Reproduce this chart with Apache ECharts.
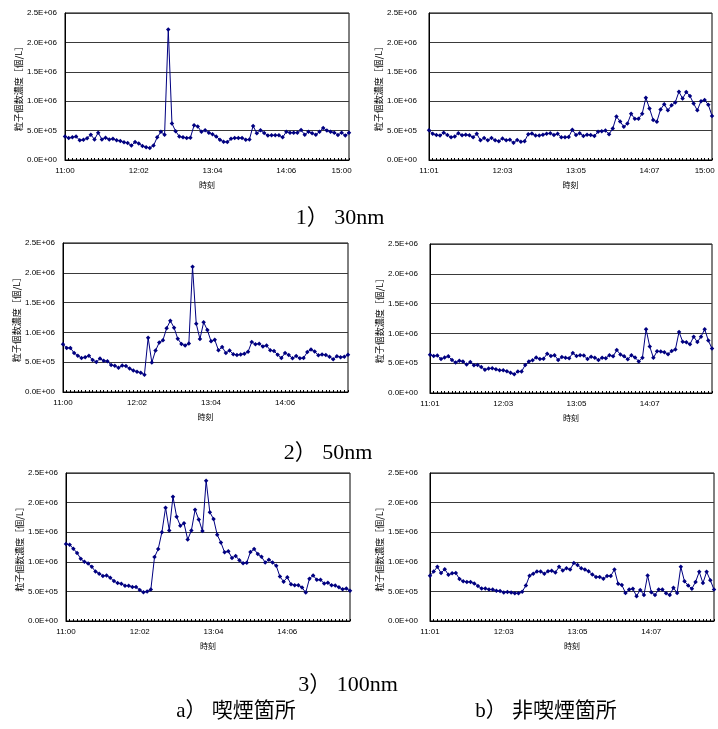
<!DOCTYPE html>
<html>
<head>
<meta charset="utf-8">
<script src="https://cdn.jsdelivr.net/npm/echarts@6/dist/echarts.min.js"></script>
<style>
html,body{margin:0;padding:0;background:#fff;}
#chart{width:718px;height:729px;}
</style>
</head>
<body>
<div id="chart"></div>
<script>
// ---- data (values in units of 1E+06 particles per litre) ----
const smoke30 = [0.40,0.375,0.385,0.40,0.335,0.345,0.37,0.43,0.35,0.465,0.35,0.38,0.35,0.36,0.335,0.325,0.30,0.29,0.245,0.305,0.28,0.24,0.215,0.205,0.245,0.385,0.48,0.43,2.22,0.62,0.49,0.40,0.385,0.375,0.38,0.59,0.57,0.48,0.505,0.465,0.44,0.40,0.345,0.31,0.305,0.36,0.375,0.375,0.375,0.345,0.35,0.58,0.455,0.505,0.46,0.415,0.42,0.42,0.42,0.385,0.48,0.465,0.465,0.465,0.51,0.43,0.48,0.455,0.43,0.48,0.545,0.50,0.48,0.465,0.425,0.465,0.415,0.465];
const nonSmoke30 = [0.505,0.445,0.425,0.415,0.465,0.425,0.385,0.40,0.455,0.42,0.43,0.42,0.385,0.445,0.335,0.375,0.335,0.375,0.335,0.32,0.365,0.335,0.345,0.295,0.34,0.31,0.32,0.44,0.45,0.415,0.415,0.43,0.445,0.455,0.425,0.445,0.385,0.385,0.39,0.515,0.425,0.455,0.41,0.43,0.425,0.41,0.48,0.49,0.50,0.44,0.535,0.74,0.655,0.565,0.62,0.785,0.70,0.70,0.785,1.06,0.875,0.68,0.65,0.86,0.95,0.845,0.93,0.98,1.16,1.045,1.155,1.09,0.96,0.845,1.00,1.02,0.94,0.75];
const smoke50 = [0.80,0.74,0.74,0.655,0.61,0.57,0.585,0.61,0.535,0.505,0.56,0.525,0.515,0.455,0.44,0.405,0.445,0.435,0.395,0.36,0.34,0.325,0.29,0.91,0.495,0.695,0.83,0.87,1.07,1.195,1.08,0.895,0.805,0.78,0.815,2.10,1.145,0.89,1.17,1.04,0.85,0.875,0.70,0.755,0.655,0.695,0.635,0.62,0.63,0.64,0.675,0.84,0.80,0.81,0.765,0.78,0.70,0.69,0.625,0.57,0.655,0.62,0.565,0.605,0.565,0.57,0.67,0.715,0.68,0.615,0.63,0.62,0.59,0.55,0.60,0.585,0.59,0.625];
const nonSmoke50 = [0.64,0.62,0.63,0.57,0.595,0.615,0.555,0.51,0.54,0.53,0.48,0.52,0.465,0.47,0.435,0.39,0.41,0.415,0.40,0.38,0.38,0.365,0.34,0.315,0.36,0.36,0.47,0.53,0.55,0.595,0.57,0.575,0.66,0.62,0.635,0.555,0.605,0.59,0.585,0.67,0.62,0.635,0.63,0.57,0.61,0.59,0.555,0.59,0.585,0.635,0.615,0.72,0.645,0.615,0.565,0.635,0.595,0.53,0.59,1.07,0.78,0.59,0.70,0.695,0.685,0.65,0.705,0.73,1.025,0.86,0.85,0.82,0.945,0.855,0.945,1.07,0.88,0.745];
const smoke100 = [1.30,1.29,1.22,1.15,1.05,1.00,0.97,0.915,0.835,0.80,0.76,0.77,0.73,0.675,0.64,0.63,0.595,0.595,0.575,0.575,0.525,0.485,0.50,0.53,1.08,1.215,1.50,1.915,1.53,2.10,1.76,1.61,1.65,1.375,1.53,1.88,1.715,1.52,2.37,1.835,1.725,1.455,1.325,1.16,1.18,1.065,1.10,1.025,0.975,0.985,1.165,1.215,1.13,1.085,0.99,1.035,0.99,0.935,0.75,0.665,0.74,0.62,0.605,0.605,0.565,0.48,0.715,0.77,0.695,0.695,0.635,0.645,0.605,0.60,0.57,0.535,0.55,0.51];
const nonSmoke100 = [0.765,0.835,0.915,0.81,0.875,0.78,0.805,0.81,0.71,0.67,0.66,0.66,0.635,0.59,0.55,0.55,0.53,0.53,0.51,0.505,0.48,0.49,0.48,0.47,0.47,0.495,0.60,0.765,0.80,0.835,0.835,0.80,0.84,0.85,0.82,0.915,0.855,0.89,0.87,0.98,0.945,0.89,0.87,0.84,0.785,0.745,0.745,0.715,0.76,0.76,0.87,0.63,0.61,0.475,0.53,0.545,0.42,0.525,0.44,0.77,0.485,0.44,0.53,0.53,0.47,0.44,0.56,0.475,0.915,0.67,0.60,0.545,0.66,0.83,0.64,0.83,0.69,0.53];

// tick labels (shown every 20 samples) and the extra end label on the top row
const smokeTickLabels = ['11:00','12:02','13:04','14:06'];
const nonSmokeTickLabels = ['11:01','12:03','13:05','14:07'];
const endLabel = '15:00';
const TICK_STEP = 20;
const END_INDEX = 75;

const sizeTitles = ['1）\u00a030nm','2）\u00a050nm','3）\u00a0100nm'];
const placeTitles = ['a）\u00a0喫煙箇所','b）\u00a0非喫煙箇所'];
const yName = '粒子個数濃度［個/L］';
const xName = '時刻';

// ---- layout ----
const panels = [
  {data: smoke30,     ticks: smokeTickLabels,    end: true,  grid:{left:65,top:13,width:284,height:147}, ygap:42, lmargin:8},
  {data: nonSmoke30,  ticks: nonSmokeTickLabels, end: true,  grid:{left:429,top:13,width:283,height:147}, ygap:46, lmargin:12},
  {data: smoke50,     ticks: smokeTickLabels,    end: false, grid:{left:63,top:243,width:285,height:149}, ygap:40, lmargin:8},
  {data: nonSmoke50,  ticks: nonSmokeTickLabels, end: false, grid:{left:430,top:244,width:282,height:149}, ygap:44, lmargin:12},
  {data: smoke100,    ticks: smokeTickLabels,    end: false, grid:{left:66,top:473,width:284,height:148}, ygap:42, lmargin:8},
  {data: nonSmoke100, ticks: nonSmokeTickLabels, end: false, grid:{left:430,top:473,width:284,height:148}, ygap:43, lmargin:12}
];

function sci(v){
  if (v === 0) return '0.0E+00';
  const e = Math.floor(Math.log10(v) + 1e-9);
  const m = v / Math.pow(10, e);
  return m.toFixed(1) + 'E+' + String(e).padStart(2,'0');
}

const labelFont = {fontFamily:'Liberation Sans, Arial, sans-serif', fontSize:8, color:'#000'};
const cjkFont = {fontFamily:'Noto Sans CJK JP, sans-serif', fontSize:8, color:'#000'};
const yNameFont = {fontFamily:'Noto Sans CJK JP, sans-serif', fontSize:9, color:'#000'};

const grids = [], xAxes = [], yAxes = [], series = [];
panels.forEach((p, k) => {
  grids.push(Object.assign({show:true, borderColor:'#000', borderWidth:1, backgroundColor:'#fff'}, p.grid));
  const cats = p.data.map((_, i) => {
    if (i % TICK_STEP === 0 && i / TICK_STEP < p.ticks.length) return p.ticks[i / TICK_STEP];
    if (p.end && i === END_INDEX) return endLabel;
    return '';
  });
  xAxes.push({
    type:'category', gridIndex:k, data:cats, boundaryGap:false,
    axisLine:{show:true, lineStyle:{color:'#000', width:1}},
    axisTick:{show:true, inside:true, interval:0, length:2, lineStyle:{color:'#000'}},
    axisLabel:Object.assign({interval:(i, v) => v !== '', margin:7}, labelFont),
    splitLine:{show:false},
    name:xName, nameLocation:'middle', nameGap:21, nameTextStyle:cjkFont
  });
  yAxes.push({
    type:'value', gridIndex:k, min:0, max:2500000, interval:500000,
    axisLine:{show:true, lineStyle:{color:'#000', width:1}},
    axisTick:{show:false},
    axisLabel:Object.assign({formatter:sci, margin:p.lmargin}, labelFont),
    splitLine:{show:true, lineStyle:{color:'#3a3a3a', width:1}},
    name:yName, nameLocation:'middle', nameRotate:90, nameGap:p.ygap, nameTextStyle:yNameFont
  });
  series.push({
    type:'line', xAxisIndex:k, yAxisIndex:k,
    data:p.data.map(v => v * 1e6),
    symbol:'diamond', symbolSize:4.5, showSymbol:true, showAllSymbol:true,
    lineStyle:{color:'#000080', width:1},
    itemStyle:{color:'#000080'},
    animation:false, silent:true
  });
});

const serifFont = '22px "Liberation Serif", "Noto Sans CJK JP", serif';
const placeFont = '21px "Liberation Serif", "Noto Sans CJK JP", serif';
const graphics = [
  {type:'text', x:340, y:218, style:{text:sizeTitles[0], align:'center', verticalAlign:'middle', font:serifFont, fill:'#000'}},
  {type:'text', x:328, y:453, style:{text:sizeTitles[1], align:'center', verticalAlign:'middle', font:serifFont, fill:'#000'}},
  {type:'text', x:348, y:685, style:{text:sizeTitles[2], align:'center', verticalAlign:'middle', font:serifFont, fill:'#000'}},
  {type:'text', x:236, y:711, style:{text:placeTitles[0], align:'center', verticalAlign:'middle', font:placeFont, fill:'#000'}},
  {type:'text', x:546, y:711, style:{text:placeTitles[1], align:'center', verticalAlign:'middle', font:placeFont, fill:'#000'}}
];

const chart = echarts.init(document.getElementById('chart'), null, {renderer:'canvas'});
chart.setOption({
  backgroundColor:'#fff',
  animation:false,
  grid:grids, xAxis:xAxes, yAxis:yAxes, series:series,
  graphic:graphics
});
</script>
</body>
</html>
